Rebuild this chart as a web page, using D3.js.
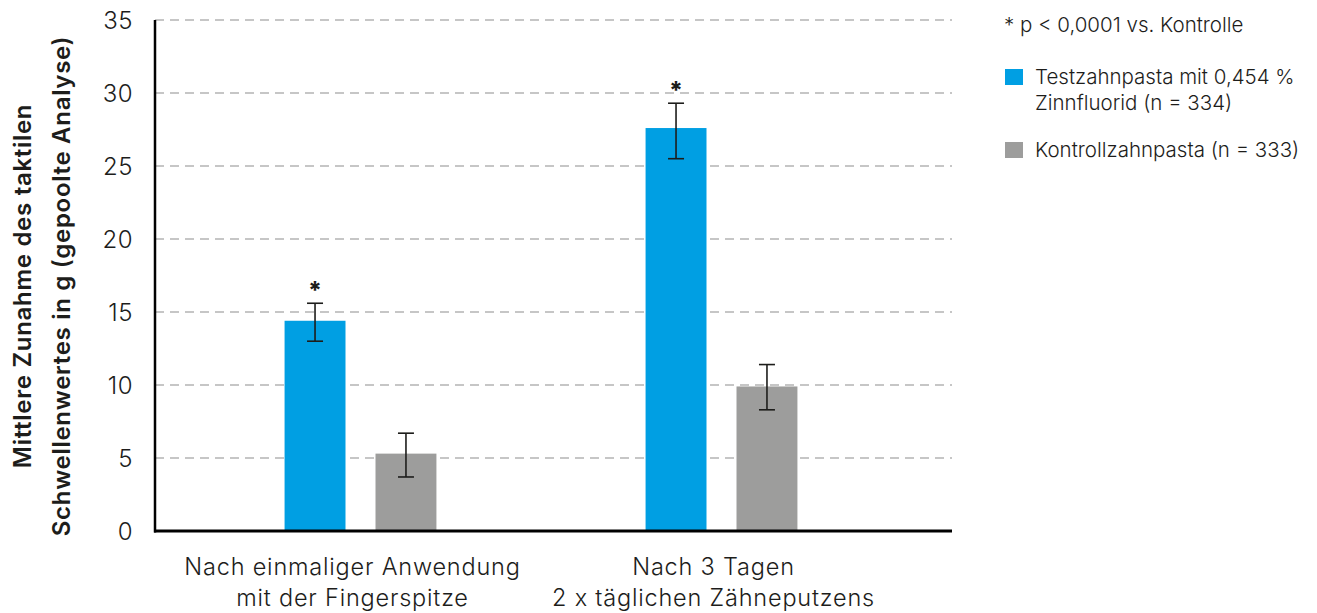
<!DOCTYPE html>
<html>
<head>
<meta charset="utf-8">
<script src="https://cdn.jsdelivr.net/npm/d3@7"></script>
<style>
  body { margin: 0; background: #fff; }
  text { font-family: "Inter", "Lato", sans-serif; fill: #1d1d1b; }
</style>
</head>
<body>
<svg id="chart" width="1317" height="613"></svg>
<script>
// data
const categories = ["Nach einmaliger Anwendung|mit der Fingerspitze", "Nach 3 Tagen|2 x täglichen Zähneputzens"];
const seriesNames = ["Testzahnpasta mit 0,454 %|Zinnfluorid (n = 334)", "Kontrollzahnpasta (n = 333)"];
const seriesColors = ["#009fe3", "#9d9d9c"];
const testValues = [14.4, 27.6];
const testErrLow = [13.0, 25.5];
const testErrHigh = [15.6, 29.3];
const controlValues = [5.3, 9.9];
const controlErrLow = [3.7, 8.3];
const controlErrHigh = [6.7, 11.4];
const significant = [true, true];
const yTicks = [0, 5, 10, 15, 20, 25, 30, 35];

const svg = d3.select("#chart");
const margin = {left: 155, top: 20, bottom: 531, right: 952};

let y = d3.scaleLinear().domain([0, 35]).range([margin.bottom, margin.top]);
let x = d3.scaleBand().domain(categories).range([180, 902]);
let xs = d3.scaleBand().domain([0, 1]).range([0, x.bandwidth()]).paddingInner(0.33).paddingOuter(1.15);

// gridlines
svg.append("g").selectAll("line")
    .data(yTicks.filter(d => d > 0))
    .join("line")
    .attr("x1", margin.left).attr("x2", margin.right)
    .attr("y1", d => y(d)).attr("y2", d => y(d))
    .attr("stroke", "#c6c6c6").attr("stroke-width", 2)
    .attr("stroke-dasharray", "9,6");

// y tick labels
svg.append("g").selectAll("text")
    .data(yTicks)
    .join("text")
    .attr("x", 133).attr("y", d => y(d) + 9)
    .attr("text-anchor", "end")
    .style("font-size", "24px").style("font-weight", 300)
    .style("letter-spacing", "0.5px")
    .text(d => d);

// bars
let barData = [];
categories.forEach((c, i) => {
    barData.push({cat: c, s: 0, v: testValues[i], lo: testErrLow[i], hi: testErrHigh[i], sig: significant[i]});
    barData.push({cat: c, s: 1, v: controlValues[i], lo: controlErrLow[i], hi: controlErrHigh[i], sig: false});
});

let bars = svg.append("g").selectAll("g").data(barData).join("g")
    .attr("transform", d => "translate(" + (x(d.cat) + xs(d.s)) + ",0)");

bars.append("rect")
    .attr("x", 0).attr("width", xs.bandwidth())
    .attr("y", d => y(d.v)).attr("height", d => y(0) - y(d.v))
    .attr("fill", d => seriesColors[d.s]);

// error bars
let cx = xs.bandwidth() / 2;
bars.append("line")
    .attr("x1", cx).attr("x2", cx)
    .attr("y1", d => y(d.lo)).attr("y2", d => y(d.hi))
    .attr("stroke", "#1d1d1b").attr("stroke-width", 1.6);
bars.selectAll("line.cap").data(d => [d.lo, d.hi]).join("line")
    .attr("class", "cap")
    .attr("x1", cx - 8).attr("x2", cx + 8)
    .attr("y1", d => y(d)).attr("y2", d => y(d))
    .attr("stroke", "#1d1d1b").attr("stroke-width", 1.6);

bars.filter(d => d.sig).append("text")
    .attr("x", cx).attr("y", d => y(d.hi) - 4)
    .attr("text-anchor", "middle")
    .style("font-size", "24px").style("font-weight", 800)
    .text("*");

// axes lines
svg.append("line").attr("x1", margin.left).attr("x2", margin.left)
    .attr("y1", margin.top).attr("y2", margin.bottom + 1.5)
    .attr("stroke", "#000").attr("stroke-width", 2.5);
svg.append("line").attr("x1", margin.left - 1).attr("x2", margin.right)
    .attr("y1", margin.bottom).attr("y2", margin.bottom)
    .attr("stroke", "#000").attr("stroke-width", 3);

// category labels
svg.append("g").selectAll("text").data(categories).join("text")
    .attr("y", 575)
    .attr("text-anchor", "middle")
    .style("font-size", "23.5px").style("font-weight", 300)
    .style("letter-spacing", "0.8px")
    .each(function(d) {
        d3.select(this).selectAll("tspan").data(d.split("|")).join("tspan")
            .attr("x", x(d) + x.bandwidth() / 2 - 8)
            .attr("dy", (t, i) => i === 0 ? 0 : 31)
            .text(t => t);
    });

// y title
let yTitle = svg.append("text")
    .attr("transform", "translate(0,286) rotate(-90)")
    .attr("text-anchor", "middle")
    .style("font-size", "24px").style("font-weight", 600)
    .style("letter-spacing", "0.7px");
yTitle.append("tspan").attr("x", 0).attr("y", 31).text("Mittlere Zunahme des taktilen");
yTitle.append("tspan").attr("x", 0).attr("y", 70).text("Schwellenwertes in g (gepoolte Analyse)");

// legend
svg.append("text").attr("x", 1004).attr("y", 32)
    .style("font-size", "20.5px").style("font-weight", 300).text("* p < 0,0001 vs. Kontrolle");

let legendY = [69, 142];
seriesNames.forEach((name, i) => {
    svg.append("rect").attr("x", 1005).attr("y", legendY[i])
        .attr("width", 18).attr("height", 16).attr("fill", seriesColors[i]);
    let t = svg.append("text").attr("x", 1035).attr("y", legendY[i] + 15)
        .style("font-size", "20.5px").style("font-weight", 300);
    name.split("|").forEach((line, j) => {
        t.append("tspan").attr("x", 1035).attr("dy", j === 0 ? 0 : 26).text(line);
    });
});
</script>
</body>
</html>
